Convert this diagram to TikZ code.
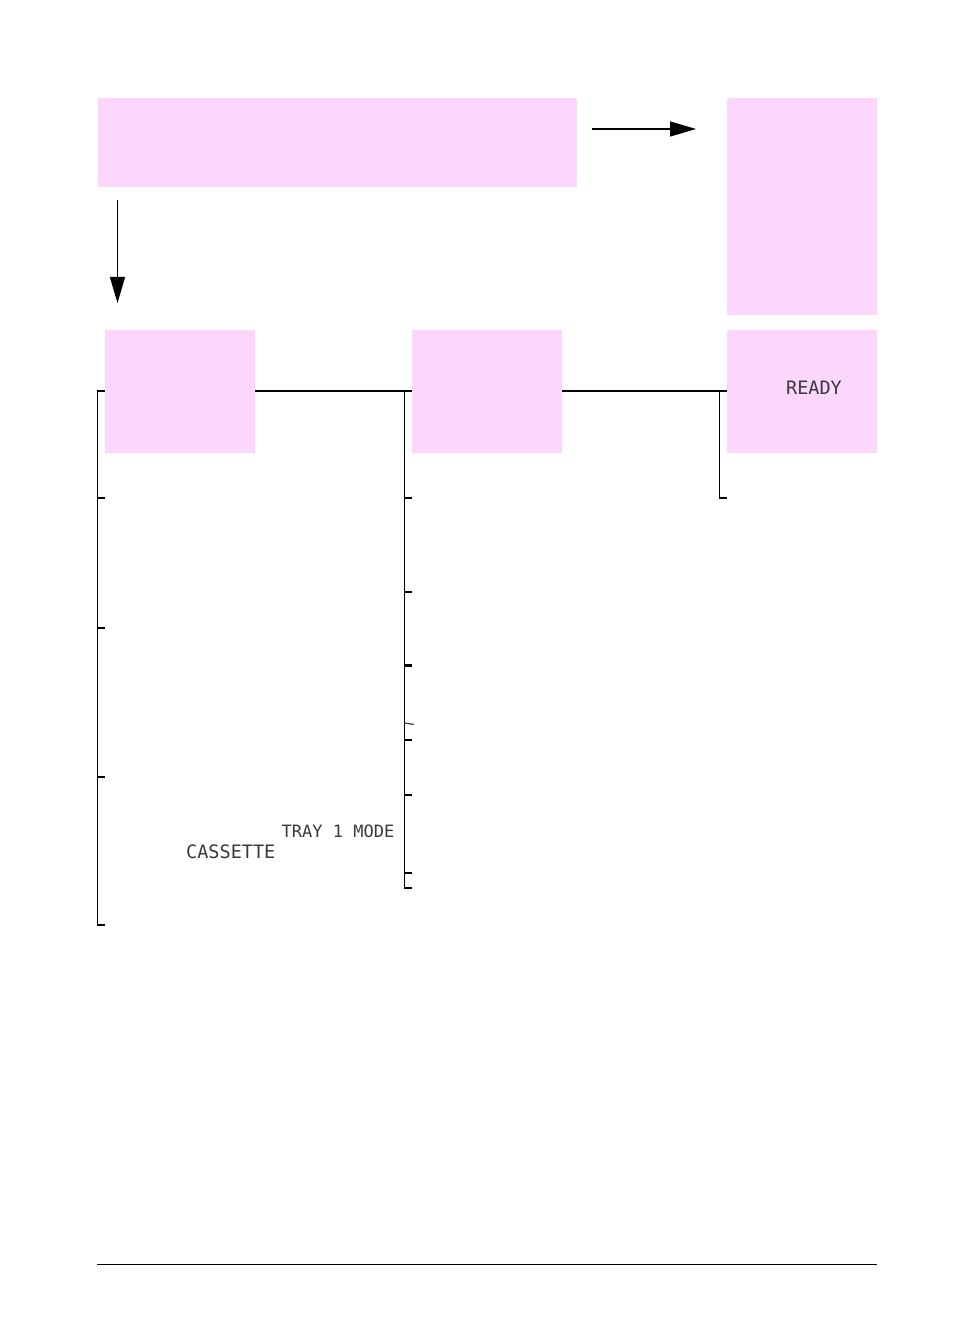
\documentclass[tikz,border=0pt]{standalone}
\usepackage{fontspec}
\newfontfamily\lcdfont{DejaVu Sans Mono}
\usetikzlibrary{arrows.meta}
\definecolor{boxpink}{HTML}{FDD6FE}
\definecolor{lcdgray}{HTML}{3A3A3A}
\tikzset{
  pinkbox/.style={fill=boxpink, draw=none, inner sep=0pt, anchor=north west},
  wire/.style={line width=1.3pt, line cap=rect},
  tick/.style={line width=1.3pt},
  thicktick/.style={line width=2.3pt},
  flow/.style={line width=1.3pt, -{Triangle[length=26pt,width=15pt]}},
  lcd/.style={font=\lcdfont\fontsize{18.5}{18.5}\selectfont, text=lcdgray, inner sep=0pt},
  lcdnarrow/.style={lcd, font=\lcdfont\fontsize{17}{17}\selectfont},
}
\begin{document}
\begin{tikzpicture}[x=1pt,y=-1pt]
\useasboundingbox (0,0) rectangle (954,1321);
% brackets (drawn first, boxes cover them)
\coordinate (lt) at (97.5,391);
\coordinate (lb) at (97.5,925);
\coordinate (mt) at (404.5,391);
\coordinate (mb) at (404.5,888);
\coordinate (rt) at (719.5,391);
\coordinate (rb) at (719.5,498);
\draw[wire] (lt) -- (727,391);
\draw[wire] (lt) -- (lb);
\draw[wire] (mt) -- (mb);
\draw[wire] (rt) -- (rb);
% left ticks
\draw[thicktick] (97.5,498) -- (105,498);
\draw[tick] (97.5,628) -- (105,628);
\draw[tick] (97.5,777) -- (105,777);
\draw[tick] (97.5,925) -- (105,925);
% middle ticks
\draw[thicktick] (404.5,498) -- (412,498);
\draw[tick] (404.5,592) -- (412,592);
\draw[thicktick] (404.5,665.5) -- (412,665.5);
\draw[tick, draw=black!70] (404.5,723) -- (414,724.5);
\draw[tick] (404.5,740) -- (412,740);
\draw[tick] (404.5,795) -- (412,795);
\draw[tick] (404.5,873) -- (412,873);
\draw[tick] (404.5,888) -- (412,888);
% right tick
\draw[thicktick] (719.5,498) -- (727,498);
% boxes
\node[pinkbox, minimum width=479pt, minimum height=89pt] (top) at (98,98) {};
\node[pinkbox, minimum width=150pt, minimum height=217pt] (topr) at (727,98) {};
\node[pinkbox, minimum width=150pt, minimum height=123pt] (b1) at (105,330) {};
\node[pinkbox, minimum width=150pt, minimum height=123pt] (b2) at (412,330) {};
\node[pinkbox, minimum width=150pt, minimum height=123pt] (b3) at (727,330) {};
% arrows
\coordinate (a1s) at (592,129);
\coordinate (a1e) at (696,129);
\draw[flow] (a1s) -- (a1e);
\coordinate (a2s) at (117.5,200);
\coordinate (a2e) at (117.5,303);
\draw[flow] (a2s) -- (a2e);
% texts
\node[lcd, anchor=center] (ready) at (814,388) {READY};
\node[lcdnarrow, anchor=east] (tray) at (394.5,831) {TRAY 1 MODE};
\node[lcd, anchor=west] (cass) at (186,852) {CASSETTE};
% bottom rule
\coordinate (bl) at (97,1264.5);
\coordinate (br) at (877,1264.5);
\draw[line width=1.8pt] (bl) -- (br);
\end{tikzpicture}
\end{document}
